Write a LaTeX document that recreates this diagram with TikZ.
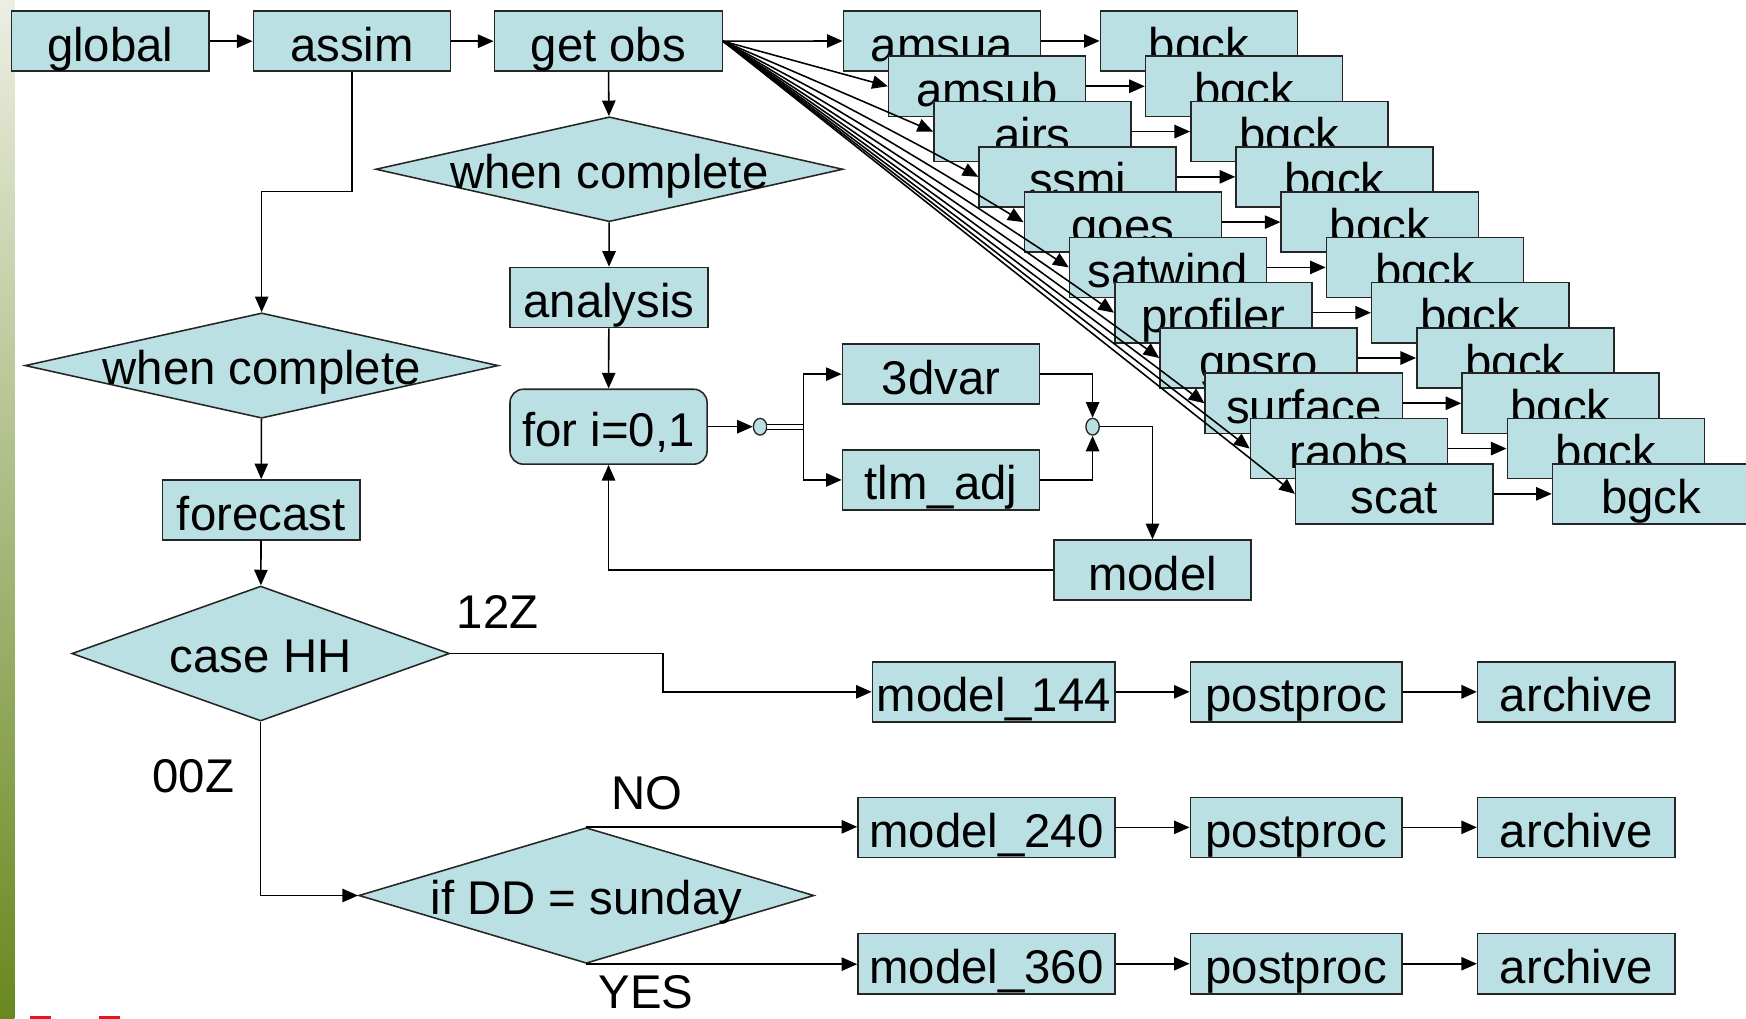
\documentclass[tikz,border=0pt]{standalone}
\usepackage{fontspec}
\setmainfont{Liberation Sans}
\usetikzlibrary{shapes.geometric,arrows.meta}

\definecolor{boxfill}{RGB}{187,224,227}
\definecolor{barTop}{RGB}{236,238,226}
\definecolor{barMid}{RGB}{172,192,132}
\definecolor{barBot}{RGB}{104,136,30}
\definecolor{logored}{RGB}{232,20,30}

\tikzset{
  lbl/.style={font=\fontsize{42.5}{50}\selectfont, text=black},
  box/.style={lbl, draw=black!85, line width=1.4pt, fill=boxfill, inner sep=0pt,
    minimum height=54pt, minimum width=177pt, text height=40pt, text depth=4pt},
  dia/.style={diamond, draw=black!85, line width=1.4pt, fill=boxfill, inner sep=0pt},
  dtxt/.style={lbl, inner sep=0pt, text height=38pt, text depth=4pt},
  tag/.style={lbl, inner sep=0pt, anchor=base},
  knot/.style={ellipse, draw=black!85, line width=1.2pt, fill=boxfill,
    minimum width=12pt, minimum height=15pt, inner sep=0pt},
  wire/.style={line width=1.4pt},
  arr/.style={wire, -{Triangle[length=14pt,width=12pt]}},
}

\begin{document}
\begin{tikzpicture}[x=1pt,y=-1pt]
\useasboundingbox (0,0) rectangle (1568,915);
\clip (0,0) rectangle (1568,915);
\fill[white] (0,0) rectangle (1568,915);
\shade[top color=barTop, middle color=barMid, bottom color=barBot] (0,0) rectangle (13,915);
\fill[logored] (27,912) rectangle (46,916);
\fill[logored] (89,912) rectangle (108,916);

% top row
\node[box] (global) at (99,37) {global};
\node[box] (assim) at (316,37) {assim};
\node[box, minimum width=204.7pt] (getobs) at (546.3,37) {get obs};

% observation streams and their background checks
\foreach \lab [count=\i from 0] in {amsua,amsub,airs,ssmi,goes,satwind,profiler,gpsro,surface,raobs,scat}{
  \node[box] (o\i) at ({845.9+40.62*\i},{36.8+40.67*\i}) {\lab};
}
\foreach \i in {0,...,10}{
  \node[box] (b\i) at ({1076.7+40.6*\i},{36.8+40.67*\i}) {bgck};
}

% analysis branch
\node[dia, minimum width=419.6pt, minimum height=94.2pt] (wc1) at (547.2,152) {};
\node[dtxt] (wc1t) at (wc1) {when complete};
\node[box, minimum width=177.6pt] (analysis) at (546.8,267.2) {analysis};
\node[box, rounded corners=12pt, minimum height=67.3pt] (loop) at (546.5,383.2) {for i=0,1};
\node[knot] (k1) at (682.6,383.2) {};
\coordinate (split) at (721.7,383.2);
\node[box] (var) at (845,336) {3dvar};
\node[box] (tlm) at (845,431) {tlm\_adj};
\node[knot] (k2) at (981.2,383.2) {};
\node[box] (model) at (1035,512) {model};

% forecast branch
\node[dia, minimum width=425pt, minimum height=94.6pt] (wc2) at (235,328.3) {};
\node[dtxt] (wc2t) at (wc2) {when complete};
\node[box, minimum width=177.5pt] (forecast) at (234.5,458) {forecast};
\node[dia, minimum width=339.2pt, minimum height=121.2pt] (hh) at (234.1,586.9) {};
\node[dtxt] (hht) at (hh) {case HH};
\node[dia, minimum width=408.8pt, minimum height=121.9pt] (dd) at (526.6,804.2) {};
\node[dtxt] (ddt) at (dd) {if DD = sunday};

\node[box, minimum width=218pt] (m144) at (892.5,621.3) {model\_144};
\node[box, minimum width=190pt] (p144) at (1164,621.3) {postproc};
\node[box] (a144) at (1415.5,621.3) {archive};
\node[box, minimum width=231pt] (m240) at (886,743) {model\_240};
\node[box, minimum width=190pt] (p240) at (1164,743) {postproc};
\node[box] (a240) at (1415.5,743) {archive};
\node[box, minimum width=231pt] (m360) at (886,865.5) {model\_360};
\node[box, minimum width=190pt] (p360) at (1164,865.5) {postproc};
\node[box] (a360) at (1415.5,865.5) {archive};

\node[tag] (t12) at (447,564) {12Z};
\node[tag] (t00) at (173.5,712) {00Z};
\node[tag] (tno) at (581,727) {NO};
\node[tag] (tyes) at (580,906) {YES};

% connectors
\draw[arr] (global) -- (assim);
\draw[arr] (assim) -- (getobs);
\foreach \i in {0,...,10}{
  \draw[arr] (getobs.east) -- (o\i.west);
  \draw[arr] (o\i.east) -- (b\i.west);
}
\draw[arr] (getobs) -- (wc1);
\draw[arr] (wc1) -- (analysis);
\draw[arr] (analysis) -- (loop);
\draw[arr] (loop) -- (k1);
\draw[line width=1.1pt, double=white, double distance=3.5pt] (k1.east) -- (split);
\draw[arr] (split) |- (var.west);
\draw[arr] (split) |- (tlm.west);
\draw[arr] (var.east) -| (k2.north);
\draw[arr] (tlm.east) -| (k2.south);
\draw[arr] (k2.east) -| (model.north);
\draw[arr] (model.west) -| (loop.south);

\coordinate (bend) at (316,172);
\draw[arr] (assim.south) -- (bend) -| (wc2.north);
\draw[arr] (wc2) -- (forecast);
\draw[arr] (forecast) -- (hh);
\coordinate (k12) at (595.5,586.9);
\draw[arr] (hh.east) -- (k12) |- (m144.west);
\draw[arr] (hh.south) |- (dd.west);
\draw[arr] (dd.north) -- (dd.north -| m240.west);
\draw[arr] (dd.south) -- (dd.south -| m360.west);

\draw[arr] (m144) -- (p144);
\draw[arr, line width=2.4pt] (p144) -- (a144);
\draw[arr] (m240) -- (p240);
\draw[arr] (p240) -- (a240);
\draw[arr] (m360) -- (p360);
\draw[arr] (p360) -- (a360);
\end{tikzpicture}
\end{document}
